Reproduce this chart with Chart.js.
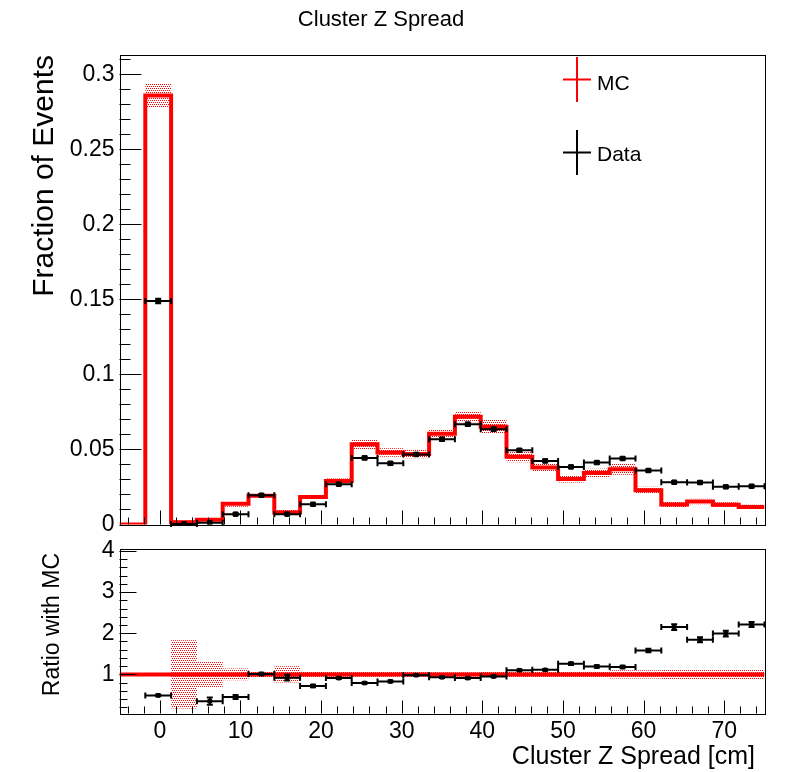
<!DOCTYPE html>
<html><head><meta charset="utf-8">
<script src="https://cdn.jsdelivr.net/npm/chart.js@4.4.1/dist/chart.umd.min.js"></script>
<style>
html,body{margin:0;padding:0;background:#fff;}
#wrap{position:relative;width:796px;height:772px;overflow:hidden;background:#fff;}
#topc{position:absolute;left:0;top:0;}
#botc{position:absolute;left:0;top:530px;}
</style></head><body>
<div id="wrap"><canvas id="topc" width="796" height="560"></canvas><canvas id="botc" width="796" height="242"></canvas></div>
<script>
// ---------------- data ----------------
const binEdges = [-5,-1.8,1.4,4.6,7.8,11,14.2,17.4,20.6,23.8,27,30.2,33.4,36.6,39.8,43,46.2,49.4,52.6,55.8,59,62.2,65.4,68.6,71.8,75];
const mcValues = [0,0.286,0.0015,0.0032,0.0138,0.0192,0.0080,0.0184,0.0290,0.0535,0.0480,0.0470,0.0605,0.0718,0.0651,0.0451,0.0380,0.0304,0.0344,0.0369,0.0229,0.0133,0.0153,0.0131,0.0117];
const mcRelErr = [0,0.027,0.83,0.31,0.14,0.07,0.20,0.07,0.06,0.06,0.06,0.06,0.05,0.05,0.07,0.08,0.08,0.08,0.08,0.10,0.10,0.13,0.12,0.13,0.13];
const dataValues = [null,0.149,0.0003,0.0012,0.0069,0.0195,0.0069,0.0135,0.0269,0.0444,0.0408,0.0467,0.0569,0.0669,0.0635,0.0495,0.0424,0.0384,0.0413,0.0440,0.0360,0.0282,0.0280,0.0251,0.0255];
const dataErr = [null,0.0015,0.0003,0.0004,0.0006,0.0008,0.0006,0.0007,0.0008,0.0009,0.0009,0.0009,0.0010,0.0010,0.0010,0.0009,0.0009,0.0008,0.0009,0.0009,0.0008,0.0008,0.0008,0.0007,0.0007];
const ratioValues = [null,0.49,null,0.35,0.45,1.01,0.92,0.72,0.91,0.79,0.83,0.98,0.93,0.91,0.95,1.10,1.11,1.26,1.19,1.18,1.58,2.15,1.84,1.99,2.21];
const ratioErr = [null,0.02,null,0.09,0.05,0.03,0.07,0.03,0.02,0.02,0.02,0.02,0.02,0.02,0.02,0.02,0.02,0.03,0.03,0.03,0.04,0.07,0.06,0.07,0.06];
const xTickValues = [0,10,20,30,40,50,60,70];
const yTopTickValues = [0,0.05,0.1,0.15,0.2,0.25,0.3];
const yRatioTickValues = [1,2,3,4];

// ---------------- helpers ----------------
const FONT = '"Liberation Sans", Arial, Helvetica, sans-serif';
Chart.defaults.font.family = FONT;
Chart.defaults.color = '#000';

function dotPattern(color){
  const c = document.createElement('canvas'); c.width = 4; c.height = 4;
  const g = c.getContext('2d'); g.fillStyle = color;
  [[0,0],[2,0],[1,2],[3,2]].forEach(([a,b]) => g.fillRect(a,b,1,1));
  return g.createPattern(c,'repeat');
}
const nb = mcValues.length;
function stepPoints(vals){ return binEdges.map((e,i) => ({x:e, y: vals[Math.min(i, nb-1)]})); }
function errPoints(vals, errs){
  const out = [];
  vals.forEach((v,i) => { if (v == null) return;
    out.push({x:(binEdges[i]+binEdges[i+1])/2, y:v, xMin:binEdges[i], xMax:binEdges[i+1], yErr:errs[i]}); });
  return out;
}
const mcUp = mcValues.map((v,i) => v*(1+mcRelErr[i]));
const mcLo = mcValues.map((v,i) => v*(1-mcRelErr[i]));
const ratUp = mcRelErr.map(r => 1+r);
const ratLo = mcRelErr.map(r => 1-r);

// ---------------- plugins ----------------
const errorBars = {
  id:'errorBars',
  beforeDatasetDraw(chart, args){
    const ds = chart.data.datasets[args.index];
    if (!ds.errorBars) return;
    const {ctx, scales:{x, y}} = chart;
    ctx.save(); ctx.strokeStyle = ds.borderColor; ctx.lineWidth = 2; ctx.beginPath();
    ds.data.forEach(p => {
      const px = x.getPixelForValue(p.x), py = y.getPixelForValue(p.y);
      const x0 = x.getPixelForValue(p.xMin), x1 = x.getPixelForValue(p.xMax);
      const y0 = y.getPixelForValue(p.y - p.yErr), y1 = y.getPixelForValue(p.y + p.yErr);
      ctx.moveTo(x0, py); ctx.lineTo(x1, py);
      ctx.moveTo(x0, py-3); ctx.lineTo(x0, py+3);
      ctx.moveTo(x1, py-3); ctx.lineTo(x1, py+3);
      if (Math.abs(y0-y1) > 1.5) {
        ctx.moveTo(px, y0); ctx.lineTo(px, y1);
        ctx.moveTo(px-3, y0); ctx.lineTo(px+3, y0);
        ctx.moveTo(px-3, y1); ctx.lineTo(px+3, y1);
      }
    });
    ctx.stroke(); ctx.restore();
  }
};
const rootFrame = {
  id:'rootFrame',
  afterDraw(chart, args, o){
    const {ctx, chartArea:a, scales:{x, y}} = chart;
    ctx.save(); ctx.strokeStyle = '#000'; ctx.lineWidth = 1; ctx.beginPath();
    const walk = (s, maj, min, cb) => {
      for (let k = Math.ceil(s.min/min - 1e-9); k*min <= s.max + 1e-9; k++) {
        const v = k*min; const m = Math.abs(v/maj - Math.round(v/maj)) < 1e-6;
        cb(s.getPixelForValue(v), m);
      }
    };
    walk(x, o.xMajor, o.xMinor, (p, m) => { const X = Math.round(p)+0.5; ctx.moveTo(X, a.bottom); ctx.lineTo(X, a.bottom - (m?o.xMajorLen:o.xMinorLen)); });
    walk(y, o.yMajor, o.yMinor, (p, m) => { const Y = Math.round(p)+0.5; ctx.moveTo(a.left, Y); ctx.lineTo(a.left + (m?o.yMajorLen:o.yMinorLen), Y); });
    ctx.stroke();
    ctx.strokeRect(Math.round(a.left)+0.5, Math.round(a.top)+0.5, Math.round(a.right-a.left), Math.round(a.bottom-a.top));
    ctx.restore();
  }
};
const rootTexts = {
  id:'rootTexts',
  afterDraw(chart, args, o){
    const ctx = chart.ctx;
    (o.items||[]).forEach(t => {
      ctx.save(); ctx.fillStyle = '#000'; ctx.font = t.size + 'px ' + FONT;
      ctx.textAlign = t.align || 'left'; ctx.textBaseline = 'alphabetic';
      ctx.translate(t.x, t.y); if (t.rotate) ctx.rotate(-Math.PI/2);
      ctx.fillText(t.text, 0, 0); ctx.restore();
    });
  }
};
const rootLegend = {
  id:'rootLegend',
  afterDraw(chart, args, o){
    const ctx = chart.ctx;
    (o.items||[]).forEach(it => {
      const ds = chart.data.datasets[it.dataset];
      ctx.save(); ctx.strokeStyle = ds.borderColor; ctx.lineWidth = 2; ctx.beginPath();
      ctx.moveTo(it.cx, it.cy - 22.5); ctx.lineTo(it.cx, it.cy + 22.5);
      ctx.moveTo(it.cx - 14, it.cy); ctx.lineTo(it.cx + 14, it.cy);
      ctx.stroke();
      ctx.fillStyle = '#000'; ctx.font = '21px ' + FONT; ctx.textBaseline = 'alphabetic';
      ctx.fillText(ds.label, it.tx, it.ty); ctx.restore();
    });
  }
};

const band = dotPattern('#ff0000');
const fmt = v => String(+Number(v).toFixed(3));

// ---------------- top chart ----------------
new Chart(document.getElementById('topc'), {
  type:'line',
  data:{ datasets:[
    { label:'Data', data: errPoints(dataValues, dataErr), showLine:false, borderColor:'#000', backgroundColor:'#000',
      pointStyle:'rect', pointRadius:3.2, pointBorderWidth:1, errorBars:true },
    { label:'MC', data: stepPoints(mcValues), stepped:true, borderColor:'#ff0000', borderWidth:4, pointRadius:0, fill:false },
    { label:'MC up', data: stepPoints(mcUp), stepped:true, borderWidth:0, borderColor:'rgba(0,0,0,0)', pointRadius:0, fill:false },
    { label:'MC lo', data: stepPoints(mcLo), stepped:true, borderWidth:0, borderColor:'rgba(0,0,0,0)', pointRadius:0, fill:'-1', backgroundColor: band }
  ]},
  options:{
    responsive:false, animation:false, devicePixelRatio:1,
    layout:{ padding:{ left:0, right:31.5, top:54.5, bottom:0 } },
    plugins:{
      legend:{display:false}, tooltip:{enabled:false},
      rootFrame:{ xMajor:10, xMinor:2, xMajorLen:14, xMinorLen:7, yMajor:0.05, yMinor:0.01, yMajorLen:22, yMinorLen:11 },
      rootTexts:{ items:[
        { text:'Cluster Z Spread', x:381, y:26, size:22, align:'center' },
        { text:'Fraction of Events', x:53, y:55, size:30, align:'right', rotate:true }
      ]},
      rootLegend:{ items:[
        { dataset:1, cx:577, cy:79.5, tx:597, ty:90 },
        { dataset:0, cx:577, cy:152.5, tx:597, ty:161 }
      ]}
    },
    scales:{
      x:{ type:'linear', min:-5, max:75, grid:{display:false, drawTicks:false}, border:{display:false},
          ticks:{display:false}, afterBuildTicks: s => { s.ticks = xTickValues.map(v => ({value:v})); },
          afterFit: s => { s.height = 35.5; } },
      y:{ type:'linear', min:0, max:0.3133, grid:{display:false, drawTicks:false}, border:{display:false},
          ticks:{ padding:5, font:{size:23}, color:'#000', callback: fmt, autoSkip:false },
          afterBuildTicks: s => { s.ticks = yTopTickValues.map(v => ({value:v})); },
          afterFit: s => { s.width = 119.5; } }
    }
  },
  plugins:[errorBars, rootFrame, rootTexts, rootLegend]
});

// ---------------- ratio chart ----------------
new Chart(document.getElementById('botc'), {
  type:'line',
  data:{ datasets:[
    { label:'Data/MC', data: errPoints(ratioValues, ratioErr), showLine:false, borderColor:'#000', backgroundColor:'#000',
      pointStyle:'rect', pointRadius:2.6, pointBorderWidth:1, errorBars:true },
    { label:'MC/MC', data:[{x:binEdges[0], y:1},{x:binEdges[nb], y:1}], borderColor:'#ff0000', borderWidth:4, pointRadius:0, fill:false },
    { label:'band up', data: stepPoints(ratUp), stepped:true, borderWidth:0, borderColor:'rgba(0,0,0,0)', pointRadius:0, fill:false },
    { label:'band lo', data: stepPoints(ratLo), stepped:true, borderWidth:0, borderColor:'rgba(0,0,0,0)', pointRadius:0, fill:'-1', backgroundColor: band }
  ]},
  options:{
    responsive:false, animation:false, devicePixelRatio:1,
    layout:{ padding:{ left:0, right:31.5, top:17.5, bottom:0 } },
    plugins:{
      legend:{display:false}, tooltip:{enabled:false},
      rootFrame:{ xMajor:10, xMinor:2, xMajorLen:13, xMinorLen:7, yMajor:1, yMinor:0.2, yMajorLen:17, yMinorLen:8 },
      rootTexts:{ items:[
        { text:'Ratio with MC', x:59, y:23, size:23, align:'right', rotate:true },
        { text:'Cluster Z Spread [cm]', x:755, y:233.5, size:25, align:'right' }
      ]}
    },
    scales:{
      x:{ type:'linear', min:-5, max:75, grid:{display:false, drawTicks:false}, border:{display:false},
          ticks:{ padding:4, font:{size:23}, color:'#000', autoSkip:false, maxRotation:0, callback: fmt },
          afterBuildTicks: s => { s.ticks = xTickValues.map(v => ({value:v})); },
          afterFit: s => { s.height = 58.5; } },
      y:{ type:'linear', min:0.05, max:4.05, grid:{display:false, drawTicks:false}, border:{display:false},
          ticks:{ padding:5, font:{size:23}, color:'#000', callback: fmt, autoSkip:false },
          afterBuildTicks: s => { s.ticks = yRatioTickValues.map(v => ({value:v})); },
          afterFit: s => { s.width = 119.5; } }
    }
  },
  plugins:[errorBars, rootFrame, rootTexts]
});
</script>
</body></html>
